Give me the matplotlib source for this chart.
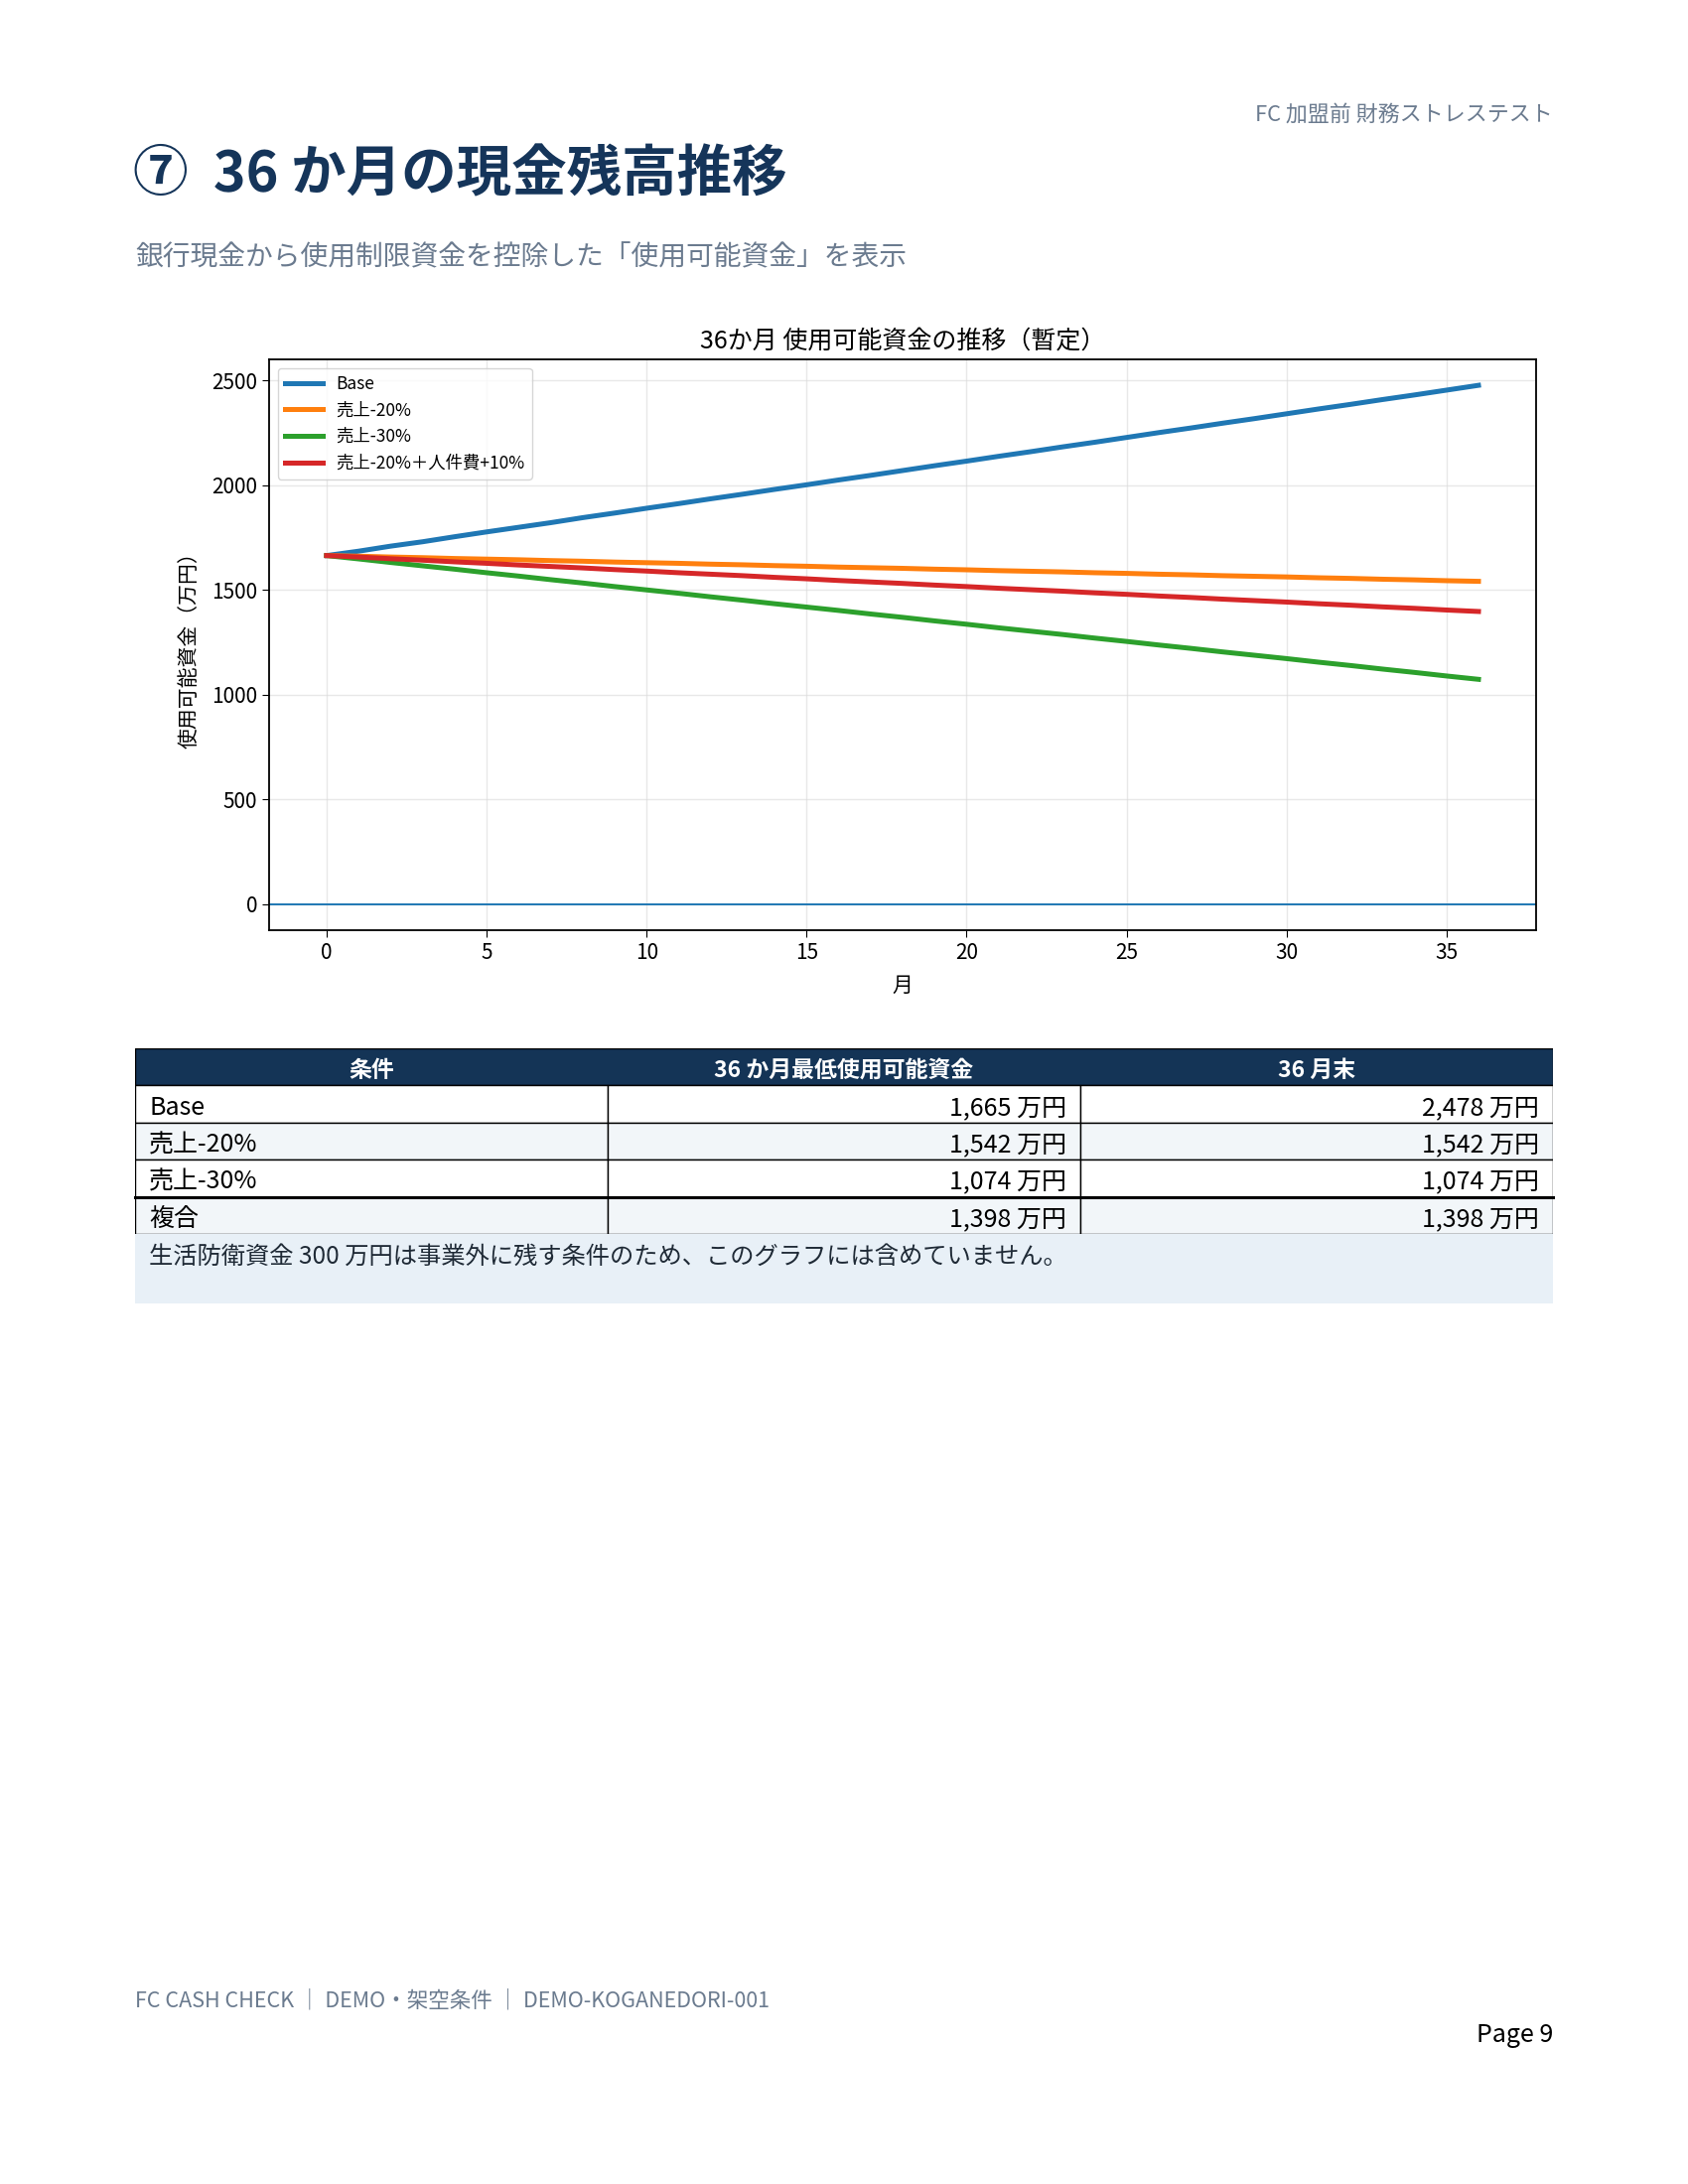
import matplotlib
matplotlib.use("Agg")
import matplotlib.pyplot as plt
from matplotlib.patches import Rectangle

plt.rcParams['font.family'] = ['Noto Sans CJK JP', 'DejaVu Sans']

# --- data -------------------------------------------------------------
months = list(range(37))

base = [1665, 1686, 1710, 1731, 1755, 1778, 1800, 1822, 1846, 1868, 1891, 1913,
        1936, 1958, 1981, 2003, 2026, 2048, 2071, 2094, 2116, 2139, 2161, 2184,
        2206, 2229, 2252, 2274, 2297, 2319, 2342, 2365, 2387, 2410, 2432, 2455, 2478]
sales_m20 = [1665, 1662, 1658, 1655, 1651, 1648, 1645, 1641, 1638, 1634, 1631, 1628,
             1624, 1621, 1617, 1614, 1610, 1607, 1604, 1600, 1597, 1593, 1590, 1587,
             1583, 1580, 1576, 1573, 1569, 1566, 1563, 1559, 1556, 1552, 1549, 1545, 1542]
sales_m30 = [1665, 1649, 1632, 1616, 1600, 1583, 1567, 1550, 1534, 1517, 1501, 1485,
             1468, 1452, 1435, 1419, 1403, 1386, 1370, 1353, 1337, 1320, 1304, 1288,
             1271, 1255, 1238, 1222, 1205, 1189, 1173, 1156, 1140, 1123, 1107, 1090, 1074]
combined = [1665, 1658, 1650, 1643, 1635, 1628, 1620, 1613, 1606, 1598, 1591, 1583,
            1576, 1569, 1561, 1554, 1546, 1539, 1532, 1524, 1517, 1509, 1502, 1495,
            1487, 1480, 1472, 1465, 1457, 1450, 1443, 1435, 1428, 1420, 1413, 1405, 1398]

series_labels = ["Base", "売上-20%", "売上-30%", "売上-20%＋人件費+10%"]
series_colors = ["#1f77b4", "#ff7f0e", "#2ca02c", "#d62728"]

table_header = ["条件", "36 か月最低使用可能資金", "36 月末"]
table_cond = ["Base", "売上-20%", "売上-30%", "複合"]
table_min = ["1,665 万円", "1,542 万円", "1,074 万円", "1,398 万円"]
table_end = ["2,478 万円", "1,542 万円", "1,074 万円", "1,398 万円"]

W, H = 1700, 2200
NAVY = "#15355a"
GREY = "#6b7b8f"


def fx(px):
    return px / W


def fy(py):
    return 1 - py / H


fig = plt.figure(figsize=(17, 22), dpi=100)
fig.patch.set_facecolor("white")

# page header / title
fig.text(fx(1564), fy(116), "FC 加盟前 財務ストレステスト", ha="right", va="center",
         fontsize=15.8, color=GREY)
fig.text(fx(134), fy(176), "⑦  36 か月の現金残高推移", ha="left", va="center",
         fontsize=40, fontweight="bold", color=NAVY)
fig.text(fx(136), fy(259), "銀行現金から使用制限資金を控除した「使用可能資金」を表示",
         ha="left", va="center", fontsize=20, color=GREY)

# --- chart ------------------------------------------------------------
ax = fig.add_axes([fx(271), fy(937), fx(1547 - 271), (937 - 362) / H])
for vals, lab, col in zip([base, sales_m20, sales_m30, combined], series_labels, series_colors):
    ax.plot(months, vals, color=col, lw=3.6, label=lab)
ax.axhline(0, color="#1f77b4", lw=1.4)
ax.grid(True, color="#d9d9d9", alpha=0.6, lw=1)
ax.set_axisbelow(True)
ax.set_title("36か月 使用可能資金の推移（暫定）", fontsize=18, pad=8)
ax.set_xlabel("月", fontsize=15, labelpad=8)
ax.set_ylabel("使用可能資金（万円）", fontsize=15, labelpad=8)
ax.tick_params(labelsize=15, length=5)
for s in ax.spines.values():
    s.set_linewidth(1.3)
ax.legend(loc="upper left", fontsize=12.5, framealpha=0.8, handlelength=2.2)

# --- table ------------------------------------------------------------
tx0, tx1 = 136, 1564
ty0, ty1 = 1056, 1243
tax = fig.add_axes([fx(tx0), fy(ty1), fx(tx1 - tx0), (ty1 - ty0) / H])
tax.set_xlim(0, 3)
tax.set_ylim(5, 0)
tax.axis("off")

rows = list(zip(table_cond, table_min, table_end))
tax.add_patch(Rectangle((0, 0), 3, 1, facecolor="#143456", edgecolor="black", lw=1))
for c, h in enumerate(table_header):
    tax.text(c + 0.5, 0.6, h, ha="center", va="center", color="white",
             fontsize=16.5, fontweight="bold")
for r, row in enumerate(rows):
    bg = "#f2f6f9" if r % 2 == 1 else "white"
    for c, val in enumerate(row):
        tax.add_patch(Rectangle((c, r + 1), 1, 1, facecolor=bg, edgecolor="black", lw=1))
        if c == 0:
            tax.text(c + 0.03, r + 1.6, val, ha="left", va="center", fontsize=18)
        else:
            tax.text(c + 0.97, r + 1.6, val, ha="right", va="center", fontsize=18)
tax.plot([0, 3], [4, 4], color="black", lw=2.2, clip_on=False)

# note box under the table
fig.patches.append(Rectangle((fx(136), fy(1313)), fx(1564 - 136), (1313 - 1243) / H,
                             transform=fig.transFigure, facecolor="#e8f0f7",
                             edgecolor="none", zorder=0))
fig.text(fx(150), fy(1266), "生活防衛資金 300 万円は事業外に残す条件のため、このグラフには含めていません。",
         ha="left", va="center", fontsize=17.5, color="#1f2a36")

# footer
fig.text(fx(136), fy(2015), "FC CASH CHECK ｜ DEMO・架空条件 ｜ DEMO-KOGANEDORI-001",
         ha="left", va="center", fontsize=15.5, color=GREY)
fig.text(fx(1564), fy(2050), "Page 9", ha="right", va="center", fontsize=18, color="black")

fig.savefig("out.png", dpi=100)
